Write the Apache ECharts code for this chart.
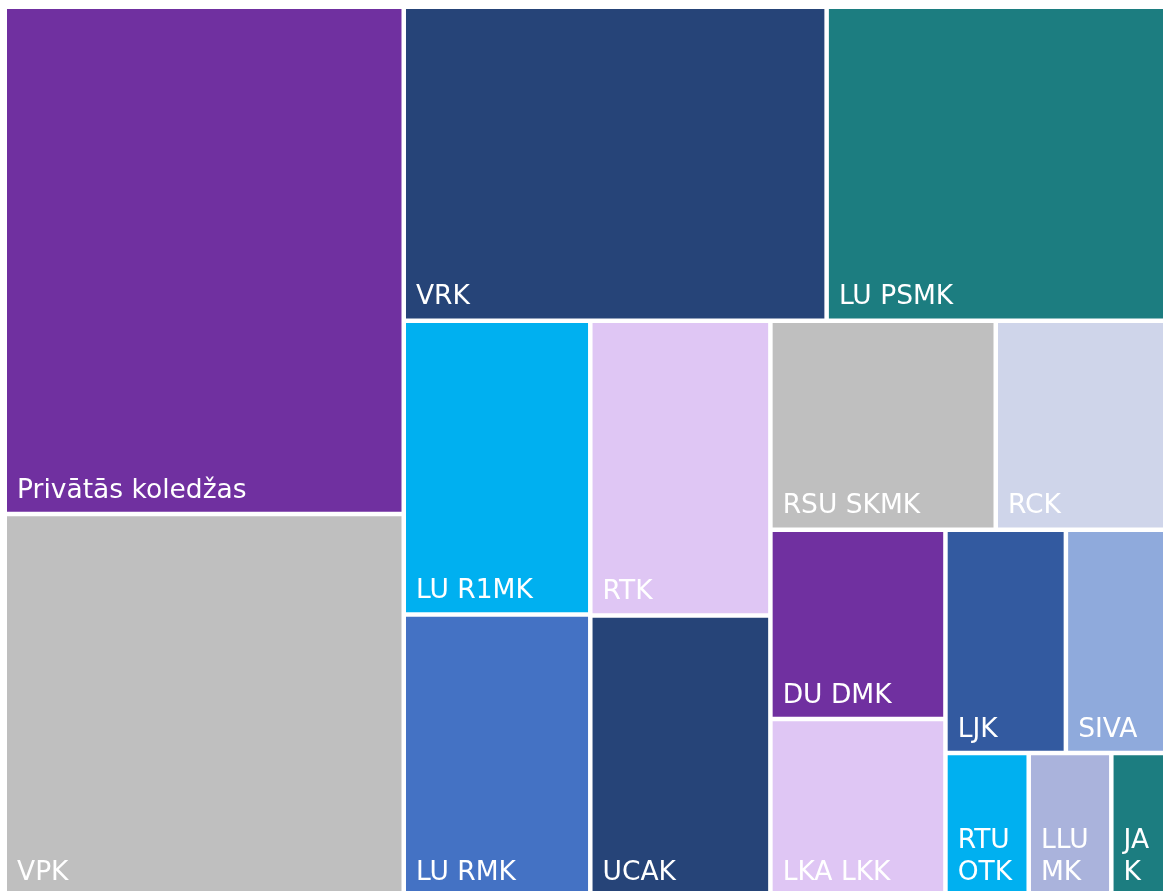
<!DOCTYPE html>
<html>
<head>
    <meta charset="utf-8" />
    <title>Koledžas</title>
    <script src="https://cdn.jsdelivr.net/npm/echarts@6/dist/echarts.min.js"></script>
    <style>
        html, body { margin: 0; padding: 0; background: #fff; }
        #main { width: 1163px; height: 891px; }
    </style>
</head>
<body>
    <div id="main"></div>
    <script type="text/javascript">
        // koledžas un to apjoms (nolasīts no attēla)
        var names = ['Privātās koledžas', 'VPK', 'VRK', 'LU PSMK', 'LU R1MK', 'LU RMK', 'RTK', 'UCAK',
            'RSU SKMK', 'RCK', 'DU DMK', 'LKA LKK', 'LJK', 'SIVA', 'RTU OTK', 'LLU MK', 'JAK'];
        var values = [2024, 1524, 1328, 1072, 548, 525, 531, 505, 471, 360, 331, 310, 269, 228, 119, 118, 81];
        var colors = ['#7030A0', '#BFBFBF', '#264478', '#1C7D80', '#00B0F0', '#4472C4', '#DFC6F4', '#264478',
            '#BFBFBF', '#CFD5EA', '#7030A0', '#DFC6F4', '#335AA0', '#8FAADC', '#00B0F0', '#AAB3DC', '#1C7D80'];
        // grupēšana, lai izkārtojums sakristu ar oriģinālu
        var grouping = [0, 1, [2, 3, [4, 5, [6, 7, [8, 9, [10, 11, [12, 13, [[14, 15], 16]]]]]]]];

        function build(list) {
            return list.map(function (item) {
                if (Array.isArray(item)) {
                    return { name: '', children: build(item), itemStyle: { borderWidth: 0, gapWidth: 0 } };
                }
                return {
                    name: names[item],
                    value: values[item],
                    itemStyle: { color: colors[item], borderWidth: 2.25, borderColor: '#fff' }
                };
            });
        }

        var myChart = echarts.init(document.getElementById('main'));
        var option = {
            animation: false,
            series: [{
                type: 'treemap',
                left: 4.75,
                top: 6.75,
                width: 1163.25,
                height: 889.25,
                sort: false,
                squareRatio: 1.127,
                roam: false,
                nodeClick: false,
                breadcrumb: { show: false },
                levels: [{ itemStyle: { borderWidth: 0, gapWidth: 0 } }],
                itemStyle: { borderWidth: 0, gapWidth: 0, borderColor: '#fff' },
                label: {
                    show: true,
                    position: 'insideBottomLeft',
                    distance: 0,
                    padding: [0, 4, 5, 10],
                    color: '#fff',
                    fontFamily: 'DejaVu Sans',
                    fontSize: 26.5,
                    lineHeight: 32,
                    overflow: 'break'
                },
                data: build(grouping)
            }]
        };
        myChart.setOption(option);
    </script>
</body>
</html>
